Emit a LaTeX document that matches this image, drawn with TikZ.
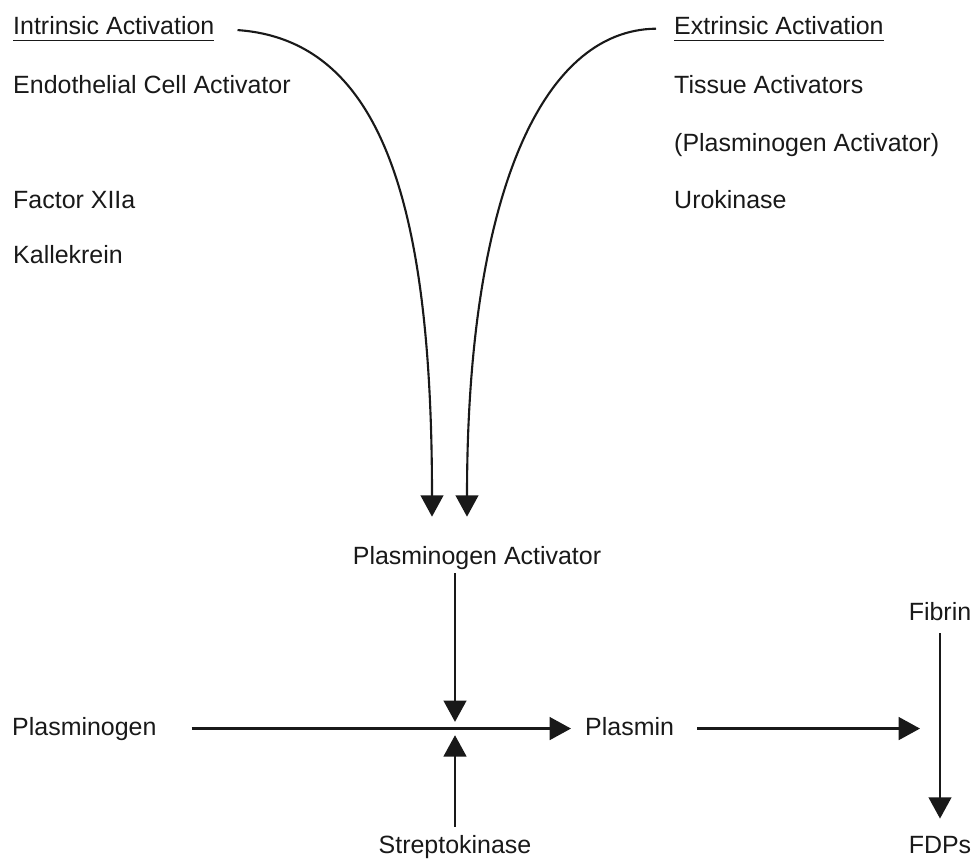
\documentclass[tikz,border=0pt]{standalone}
\usepackage{fontspec}
\setmainfont{Liberation Sans}
\usetikzlibrary{arrows.meta, positioning, calc}

\newcommand{\ulabel}[1]{\sbox0{#1}\rlap{\rule[-6pt]{\wd0}{1.3pt}}\usebox0}

\begin{document}
\begin{tikzpicture}[x=0.03cm, y=-0.03cm,
    lbl/.style={inner sep=0pt, text=black!90, font=\fontsize{21.3}{25}\selectfont},
    arr/.style={-{Triangle[width=0.68cm, length=0.64cm]}, line width=2.1pt, black!90}
]
\useasboundingbox (0,0) rectangle (976,859);

% Intrinsic side
\node[lbl, anchor=base west] (intr) at (13,34) {\ulabel{Intrinsic Activation}};
\foreach \name/\txt/\y in {endo/Endothelial Cell Activator/93, fxii/Factor XIIa/208, kall/Kallekrein/263} {
    \node[lbl, anchor=base west] (\name) at (13,\y) {\txt};
}

% Extrinsic side
\node[lbl, anchor=base west] (extr) at (674,34) {\ulabel{Extrinsic Activation}};
\foreach \name/\txt/\y in {tiss/Tissue Activators/93, tpa/{(Plasminogen Activator)}/151, urok/Urokinase/208} {
    \node[lbl, anchor=base west] (\name) at (674,\y) {\txt};
}

% Centre and reaction line
\node[lbl, anchor=base] (pa) at (477,564) {Plasminogen Activator};
\node[lbl, anchor=base west] (plg) at (12,735) {Plasminogen};
\node[lbl, anchor=base west] (pln) at (585,735) {Plasmin};
\node[lbl, anchor=base] (strep) at (455,853) {Streptokinase};
\node[lbl, anchor=base] (fib) at (940,620) {Fibrin};
\node[lbl, anchor=base] (fdp) at (940,853) {FDPs};
\coordinate (hub) at (strep.north |- plg.east);

% activation curves
\draw[arr, line width=1.8pt, shorten <=0.69cm] (intr.east)
    .. controls (380,40) and (432,200) .. ([xshift=-1.35cm, yshift=0.87cm]pa.north);
\draw[arr, line width=1.8pt, shorten <=0.54cm] (extr.west)
    .. controls (540,30) and (467,200) .. ([xshift=-0.3cm, yshift=0.87cm]pa.north);

% conversion
\draw[arr, shorten <=1.05cm, shorten >=0.42cm] (plg.east) -- (pln.west |- plg.east);
\draw[arr, shorten <=0.12cm, shorten >=0.2cm] (pa.south -| hub) -- (hub);
\draw[arr, shorten <=0.24cm, shorten >=0.2cm] (strep.north) -- (hub);
\draw[arr, shorten <=0.69cm, shorten >=0.6cm] (pln.east |- hub) -- (fib.south |- hub);
\draw[arr, shorten <=0.39cm, shorten >=0.51cm] (fib.south) -- (fdp.north);

\end{tikzpicture}
\end{document}
